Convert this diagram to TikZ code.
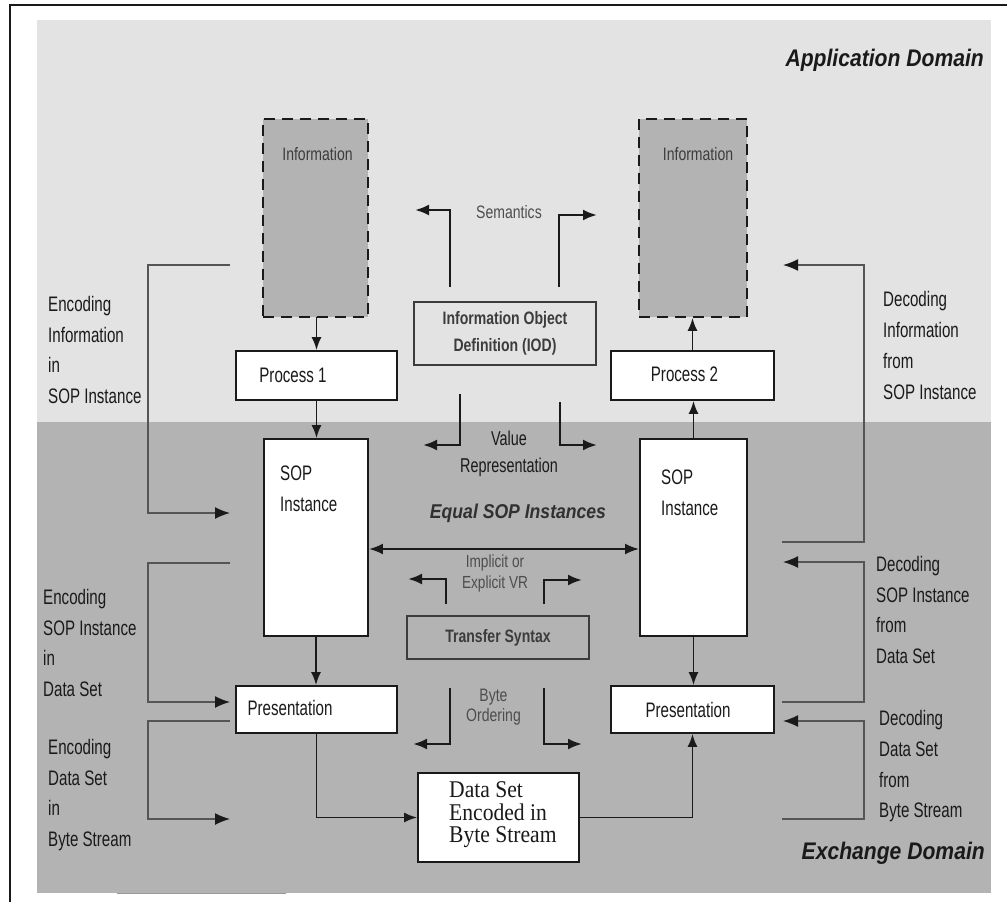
\documentclass[tikz,border=0pt]{standalone}
\usepackage{fontspec}
\usetikzlibrary{arrows.meta}
\newfontfamily\narrowsans{Liberation Sans}[FakeStretch=0.72]
\newfontfamily\softsans{Liberation Sans}[FakeStretch=0.78]
\newfontfamily\headsans{Liberation Sans}[FakeStretch=0.88]
\newfontfamily\boxserif{Liberation Serif}[FakeStretch=0.9]
\definecolor{appbg}{HTML}{E3E3E3}
\definecolor{exbg}{HTML}{B3B3B3}
\definecolor{ink}{HTML}{1A1A1A}
\definecolor{wire}{HTML}{555555}
\definecolor{softtext}{HTML}{4D4D4D}
\begin{document}
\begin{tikzpicture}[x=1pt,y=-1pt,
  box/.style={draw=ink, line width=1.8pt, fill=white, inner sep=0pt},
  infobox/.style={draw=ink, line width=1.8pt, dash pattern=on 11pt off 7pt, fill=exbg, inner sep=0pt},
  defbox/.style={draw=ink!85, line width=1.5pt, inner sep=0pt},
  flow/.style={-{Latex[length=13pt,width=10pt]}, line width=1.8pt, draw=ink},
  bent/.style={-{Latex[length=14pt,width=11pt]}, line width=2.4pt, draw=ink},
  dbl/.style={{Latex[length=14pt,width=11pt]}-{Latex[length=14pt,width=11pt]}, line width=2.4pt, draw=ink},
  wirearr/.style={-{Latex[length=15pt,width=12pt,color=ink]}, line width=1.5pt, draw=wire},
  lbl/.style={font=\narrowsans\fontsize{21}{30.7}\selectfont, inner sep=0pt, align=left, text=ink},
  inlbl/.style={font=\narrowsans\fontsize{21}{31}\selectfont, inner sep=0pt, align=left, text=ink},
  soft/.style={font=\softsans\fontsize{18}{20}\selectfont, inner sep=0pt, align=center, text=softtext},
  domainhead/.style={font=\headsans\bfseries\itshape\fontsize{24}{28}\selectfont, inner sep=0pt, text=ink}
]
\useasboundingbox (0,0) rectangle (1007,902);

% backgrounds of the two domains
\fill[appbg] (37,20) rectangle (991,422);
\fill[exbg] (37,422) rectangle (991,893);
\draw[line width=1pt, draw=gray!80] (117,893) -- (286,893);

% outer frame
\draw[line width=2pt, draw=ink] (1007,5) -- (10,5) -- (10,902);

% domain titles
\node[domainhead, anchor=east] (appdom) at (984,60) {Application Domain};
\node[domainhead, anchor=east] (exdom) at (985,853) {Exchange Domain};

% information blocks
\node[infobox, minimum width=105pt, minimum height=198pt] (info1) at (315.5,218) {};
\node[infobox, minimum width=108pt, minimum height=198pt] (info2) at (693,218) {};
\node[font=\softsans\fontsize{18}{20}\selectfont, text=ink!85, inner sep=0pt] (info1txt) at (317.5,154) {Information};
\node[font=\softsans\fontsize{18}{20}\selectfont, text=ink!85, inner sep=0pt] (info2txt) at (698,154) {Information};

% processes
\node[box, minimum width=161pt, minimum height=49pt] (proc1) at (316.5,375.5) {};
\node[box, minimum width=163pt, minimum height=49pt] (proc2) at (692.5,375.5) {};
\node[inlbl] (proc1txt) at (293,375) {Process 1};
\node[inlbl] (proc2txt) at (684.5,374) {Process 2};

% SOP instances
\node[box, minimum width=104pt, minimum height=197pt] (sop1) at (316,537.5) {};
\node[box, minimum width=107pt, minimum height=197pt] (sop2) at (693.5,537.5) {};
\node[inlbl, anchor=west] (sop1txt) at (280,489) {SOP\\Instance};
\node[inlbl, anchor=west] (sop2txt) at (661,493) {SOP\\Instance};

% presentations
\node[box, minimum width=161pt, minimum height=47pt] (pres1) at (316.5,709.5) {};
\node[box, minimum width=163pt, minimum height=47pt] (pres2) at (692.5,709.5) {};
\node[inlbl] (pres1txt) at (290,708) {Presentation};
\node[inlbl] (pres2txt) at (688,710) {Presentation};

% encoded data set
\node[box, minimum width=161pt, minimum height=89pt] (data) at (498.5,817.5) {};
\node[font=\boxserif\fontsize{24}{22.5}\selectfont, inner sep=0pt, align=left, anchor=west, text=ink] (datatxt) at (449,815) {Data Set\\Encoded in\\Byte Stream};

% definitions in the middle column
\node[defbox, minimum width=182pt, minimum height=63pt, font=\softsans\bfseries\fontsize{18}{27}\selectfont, align=center, text=ink!85] (iod) at (505,333.5) {Information Object\\Definition (IOD)};
\node[defbox, minimum width=182pt, minimum height=43pt, font=\softsans\bfseries\fontsize{18}{20}\selectfont, text=ink!85] (ts) at (498,637.5) {Transfer Syntax};

\node[soft] (semtxt) at (509,212) {Semantics};
\node[font=\narrowsans\fontsize{20}{27}\selectfont, inner sep=0pt, align=center, text=ink] (vrtxt) at (509,453.5) {Value\\Representation};
\node[font=\headsans\bfseries\itshape\fontsize{20}{24}\selectfont, inner sep=0pt, text=ink!90] (eqtxt) at (518,513) {Equal SOP Instances};
\node[soft, font=\softsans\fontsize{17.5}{21}\selectfont] (ivtxt) at (495,573.5) {Implicit or\\Explicit VR};
\node[soft] (botxt) at (493.5,707) {Byte\\Ordering};

% flow between the boxes
\draw[flow] (info1.south) -- (info1.south -| proc1.north) -- (proc1.north);
\draw[flow] (proc1.south) -- (proc1.south |- sop1.north);
\draw[flow] (sop1.south) -- (sop1.south |- pres1.north);
\draw[flow] (pres1.south) |- (data.west);
\draw[flow] (data.east) -| (pres2.south);
\draw[flow] (sop2.south) -- (sop2.south |- pres2.north);
\draw[flow] (sop2.north) -- (sop2.north |- proc2.south);
\draw[flow] (proc2.north) -- (proc2.north |- info2.south);
\coordinate (eqrow) at (0,549);
\draw[dbl] (sop1.east |- eqrow) -- (sop2.west |- eqrow);

% bent arrows around the definitions
\coordinate (semL0) at (450,287); \coordinate (semL1) at (415,210);
\coordinate (semR0) at (559,287); \coordinate (semR1) at (597,215);
\draw[bent] (semL0) |- (semL1);
\draw[bent] (semR0) |- (semR1);
\coordinate (vrL0) at (460,394); \coordinate (vrL1) at (423,445);
\coordinate (vrR0) at (560,402); \coordinate (vrR1) at (597,445);
\draw[bent] (vrL0) |- (vrL1);
\draw[bent] (vrR0) |- (vrR1);
\coordinate (ivL0) at (446,604); \coordinate (ivL1) at (408,579);
\coordinate (ivR0) at (544,604); \coordinate (ivR1) at (582,580);
\draw[bent] (ivL0) |- (ivL1);
\draw[bent] (ivR0) |- (ivR1);
\coordinate (boL0) at (450,688); \coordinate (boL1) at (413,744);
\coordinate (boR0) at (544,688); \coordinate (boR1) at (582,744);
\draw[bent] (boL0) |- (boL1);
\draw[bent] (boR0) |- (boR1);

% encoding loops on the left
\coordinate (encx) at (148,0);
\coordinate (enc1a) at (230,265); \coordinate (enc1b) at (230,513);
\coordinate (enc2a) at (230,563); \coordinate (enc2b) at (230,702);
\coordinate (enc3a) at (230,721); \coordinate (enc3b) at (230,819);
\draw[wirearr] (enc1a) -- (enc1a -| encx) -- (enc1b -| encx) -- (enc1b);
\draw[wirearr] (enc2a) -- (enc2a -| encx) -- (enc2b -| encx) -- (enc2b);
\draw[wirearr] (enc3a) -- (enc3a -| encx) -- (enc3b -| encx) -- (enc3b);

% decoding loops on the right
\coordinate (decx) at (864,0);
\coordinate (dec1a) at (782,542); \coordinate (dec1b) at (783,265);
\coordinate (dec2a) at (782,702); \coordinate (dec2b) at (783,562);
\coordinate (dec3a) at (782,819); \coordinate (dec3b) at (783,721);
\draw[wirearr] (dec1a) -- (dec1a -| decx) -- (dec1b -| decx) -- (dec1b);
\draw[wirearr] (dec2a) -- (dec2a -| decx) -- (dec2b -| decx) -- (dec2b);
\draw[wirearr] (dec3a) -- (dec3a -| decx) -- (dec3b -| decx) -- (dec3b);

% side labels
\node[lbl, anchor=west] (enc1txt) at (48,350) {Encoding\\Information\\in\\SOP Instance};
\node[lbl, anchor=west] (enc2txt) at (43,643) {Encoding\\SOP Instance\\in\\Data Set};
\node[lbl, anchor=west] (enc3txt) at (48,795) {Encoding\\Data Set\\in\\Byte Stream};
\node[lbl, anchor=west] (dec1txt) at (883,345.5) {Decoding\\Information\\from\\SOP Instance};
\node[lbl, anchor=west] (dec2txt) at (876,610) {Decoding\\SOP Instance\\from\\Data Set};
\node[lbl, anchor=west] (dec3txt) at (879,766.5) {Decoding\\Data Set\\from\\Byte Stream};
\end{tikzpicture}
\end{document}
